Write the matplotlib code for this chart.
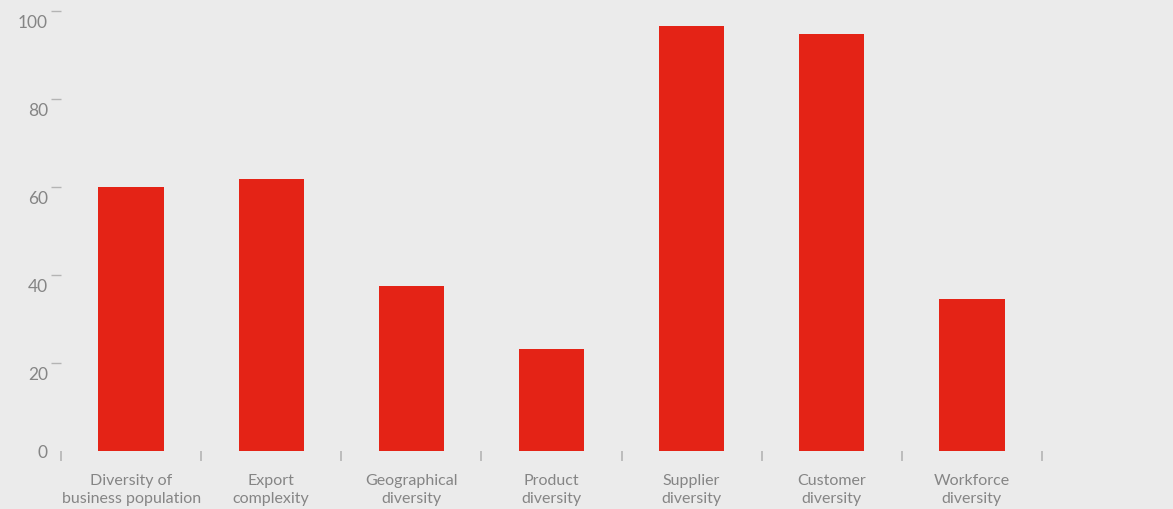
import numpy as np
import matplotlib.pyplot as plt
from matplotlib.transforms import ScaledTranslation

plt.rcParams['font.family'] = ['Lato', 'DejaVu Sans']

categories = ["Diversity of\nbusiness population", "Export\ncomplexity",
              "Geographical\ndiversity", "Product\ndiversity",
              "Supplier\ndiversity", "Customer\ndiversity",
              "Workforce\ndiversity"]
scores = [59.9, 61.9, 37.5, 23.2, 96.7, 94.7, 34.6]
yticks = [0, 20, 40, 60, 80, 100]

bg = '#ebebeb'
red = '#e42316'
grey = '#858585'
tickc = '#b4b4b4'

fig = plt.figure(figsize=(11.73, 5.10), dpi=100, facecolor=bg)
ax = fig.add_axes([61/1173, 58/510, 981/1173, 440/510], facecolor=bg)

x = np.arange(len(categories))
ax.bar(x, scores, width=0.465, color=red, zorder=2)

ax.set_xlim(-0.5, len(categories) - 0.5)
ax.set_ylim(0, 100)
for s in ax.spines.values():
    s.set_visible(False)

# category separators on the x axis, labels centred under the bars
ax.set_xticks(np.arange(len(categories) + 1) - 0.5)
ax.set_xticklabels([])
ax.set_xticks(x, minor=True)
ax.set_xticklabels(categories, minor=True, fontsize=11.5, color=grey,
                   linespacing=1.3)
ax.tick_params(axis='x', which='major', length=7.5, width=1.2, color=tickc)
ax.tick_params(axis='x', which='minor', length=0, pad=16)

ax.set_yticks(yticks)
ax.set_yticklabels([str(v) for v in yticks], fontsize=12.5, color=grey)
ax.tick_params(axis='y', length=7.5, width=1, color=tickc, pad=2)
ax.yaxis.get_major_ticks()[0].tick1line.set_visible(False)
# labels sit a little below their tick marks
for lab in ax.get_yticklabels()[1:]:
    lab.set_transform(lab.get_transform() + ScaledTranslation(0, -7/72, fig.dpi_scale_trans))

fig.savefig('out.png', dpi=100, facecolor=bg)
